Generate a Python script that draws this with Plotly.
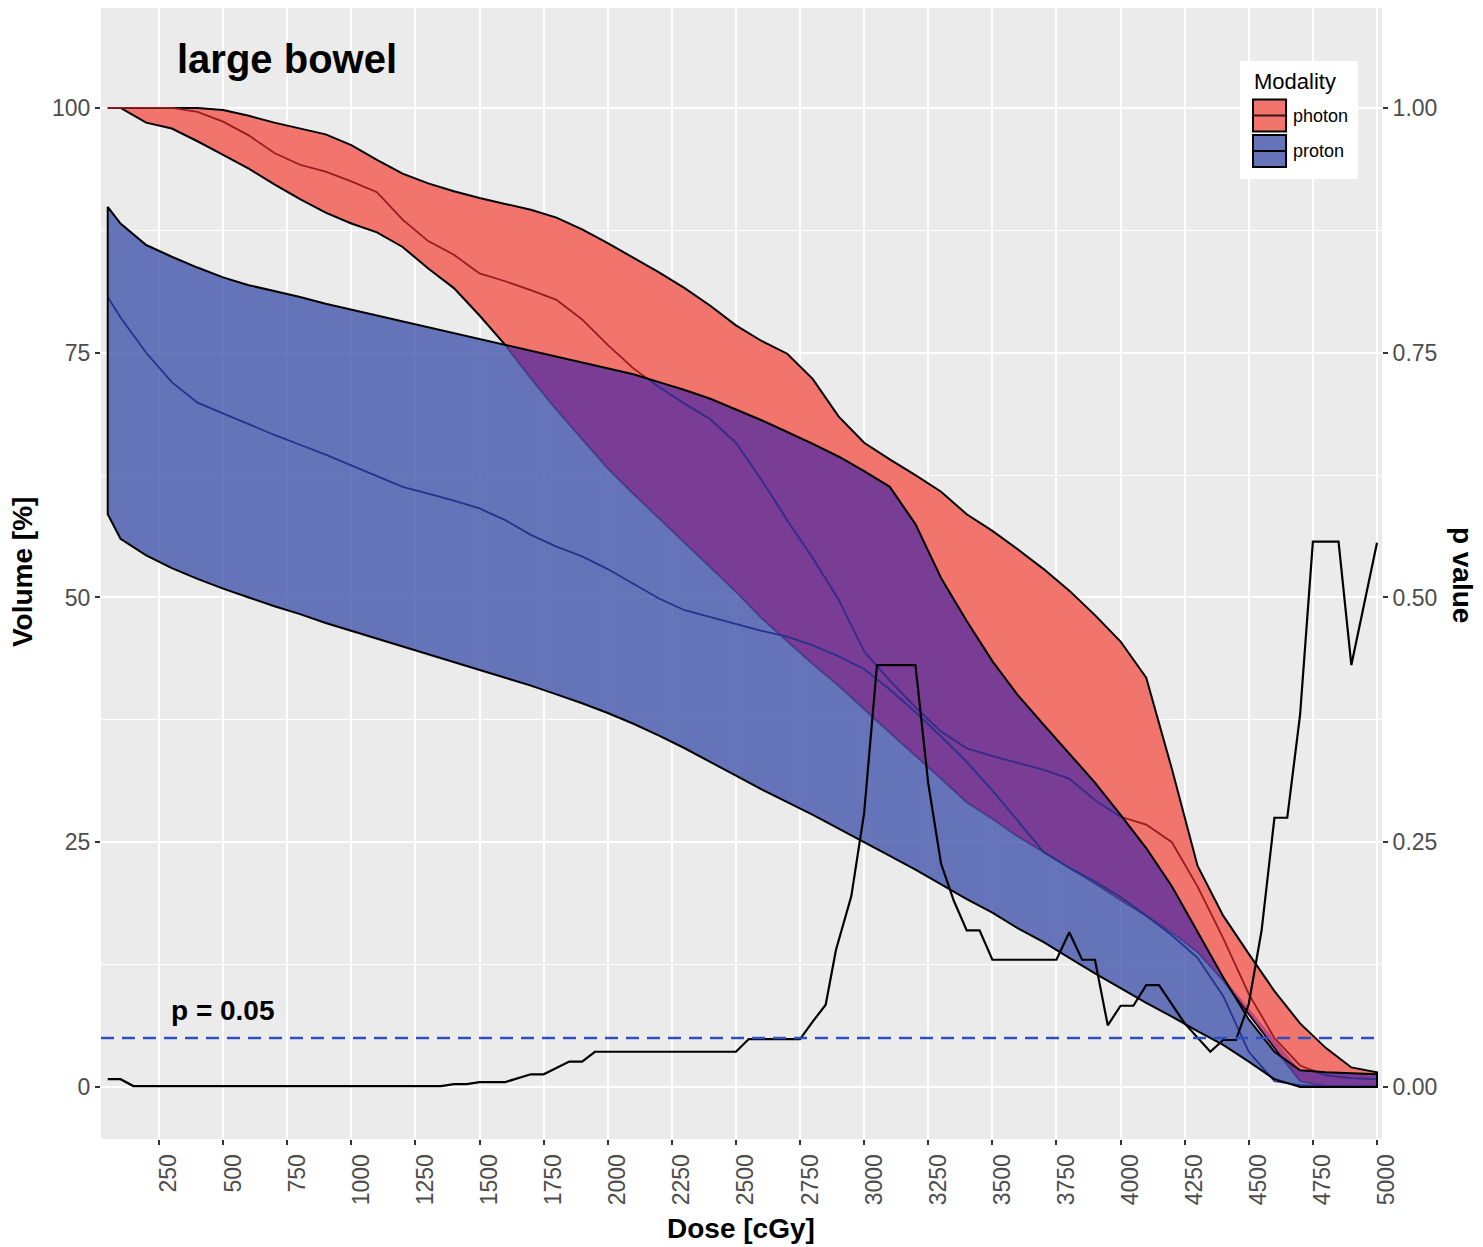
import numpy as np
import plotly.graph_objects as go

# ---------------- data ----------------
DOSE = [50] + list(range(100, 5001, 100))

PHOTON_UPPER = [100, 100, 100, 100, 100, 99.8, 99.2, 98.5, 97.9, 97.3, 96.2, 94.7, 93.3, 92.3, 91.5, 90.8,
                90.2, 89.6, 88.8, 87.6, 86.2, 84.7, 83.2, 81.6, 79.8, 77.8, 76.2, 74.9, 72.3, 68.5, 65.8,
                64.1, 62.5, 60.8, 58.5, 56.8, 54.9, 52.9, 50.7, 48.2, 45.5, 41.8, 32.5, 22.6, 17.5, 13.6,
                9.8, 6.5, 4.0, 2.0, 1.5]
PHOTON_LOWER = [100, 100, 98.5, 97.9, 96.6, 95.2, 93.8, 92.2, 90.7, 89.3, 88.2, 87.3, 85.8, 83.6, 81.6, 78.8,
                75.8, 72.4, 69.2, 66.2, 63.2, 60.6, 58.0, 55.5, 53.1, 50.6, 47.9, 45.5, 43.2, 41.0, 38.6,
                36.2, 33.8, 31.5, 29.1, 27.4, 25.6, 24.0, 22.4, 20.8, 19.1, 17.5, 15.8, 13.8, 10.9, 7.4,
                4.0, 0.6, 0.1, 0.0, 0.0]
PHOTON_MEAN = [100, 100, 100, 100, 99.6, 98.6, 97.2, 95.4, 94.2, 93.5, 92.5, 91.4, 88.6, 86.4, 85.0, 83.1,
               82.3, 81.4, 80.4, 78.4, 75.8, 73.4, 71.5, 69.8, 68.2, 65.8, 62.0, 57.9, 54.0, 49.8, 44.5,
               41.5, 38.8, 36.3, 34.6, 33.8, 33.1, 32.4, 31.5, 29.3, 27.6, 26.8, 25.0, 20.5, 15.2, 9.5,
               5.0, 2.2, 1.2, 0.9, 0.8]
PROTON_UPPER = [89.9, 88.2, 86.0, 84.8, 83.7, 82.7, 81.9, 81.3, 80.7, 80.0, 79.4, 78.8, 78.2, 77.6, 77.0, 76.4,
                75.8, 75.2, 74.6, 74.0, 73.4, 72.8, 72.0, 71.2, 70.3, 69.2, 68.1, 66.9, 65.7, 64.4, 62.9,
                61.3, 57.5, 52.0, 47.6, 43.5, 40.0, 37.0, 34.0, 31.1, 27.8, 24.4, 20.5, 15.8, 11.2, 6.9,
                3.6, 1.7, 1.5, 1.4, 1.3]
PROTON_LOWER = [58.5, 56.0, 54.3, 53.0, 51.9, 50.9, 50.0, 49.1, 48.3, 47.4, 46.6, 45.8, 45.0, 44.2, 43.4, 42.6,
                41.8, 41.0, 40.1, 39.2, 38.2, 37.1, 35.9, 34.6, 33.2, 31.8, 30.4, 29.1, 27.8, 26.4, 25.0,
                23.6, 22.2, 20.7, 19.2, 17.8, 16.2, 14.8, 13.2, 11.6, 10.1, 8.6, 7.2, 5.7, 4.3, 2.6,
                0.8, 0, 0, 0, 0]
PROTON_MEAN = [80.7, 78.6, 75.0, 72.0, 69.9, 68.8, 67.7, 66.6, 65.6, 64.6, 63.5, 62.4, 61.3, 60.6, 59.9, 59.1,
               57.9, 56.4, 55.2, 54.2, 52.9, 51.4, 49.9, 48.7, 48.0, 47.3, 46.6, 46.0, 45.1, 44.0, 42.7,
               40.6, 38.3, 35.8, 33.2, 30.3, 27.2, 24.0, 22.4, 21.0, 19.4, 17.5, 15.5, 13.2, 9.3, 3.6,
               0.6, 0.2, 0.1, 0.1, 0.1]

P_DOSE = [50, 100, 150, 1350, 1400, 1450, 1500, 1600, 1700, 1750, 1850, 1900, 1950, 2500, 2550, 2750, 2800,
          2850, 2890, 2950, 3000, 3050, 3200, 3250, 3300, 3350, 3400, 3450, 3500, 3750, 3800, 3850, 3900,
          3950, 4000, 4050, 4100, 4150, 4250, 4350, 4400, 4450, 4500, 4550, 4600, 4650, 4700, 4750, 4850,
          4900, 5000]
P_VALUE = [0.008, 0.008, 0.001, 0.001, 0.003, 0.003, 0.005, 0.005, 0.013, 0.013, 0.026, 0.026, 0.036, 0.036,
           0.049, 0.049, 0.067, 0.084, 0.14, 0.195, 0.28, 0.431, 0.431, 0.31, 0.228, 0.19, 0.16, 0.16, 0.13,
           0.13, 0.158, 0.13, 0.13, 0.063, 0.083, 0.083, 0.104, 0.104, 0.065, 0.036, 0.048, 0.048, 0.085,
           0.16, 0.275, 0.275, 0.38, 0.557, 0.557, 0.431, 0.556]
P_THRESHOLD = 0.05

X_TICKS = list(range(250, 5001, 250))
Y_TICKS = [0, 25, 50, 75, 100]
P_TICKS = [0, 0.25, 0.5, 0.75, 1.0]
P_TICKTEXT = ["0.00", "0.25", "0.50", "0.75", "1.00"]

# ---------------- styles ----------------
FONT = "Liberation Sans, Arial, Helvetica, sans-serif"
BG = "#EBEBEB"
RED = "rgb(241,117,108)"
BLUE_RGBA = "rgba(67,86,172,0.8)"
PURPLE_FIX = "rgba(142,30,142,0.5)"
BLUE_KEY = "rgb(101,116,185)"
RED_MEAN = "rgb(150,30,30)"
RED_MEAN_TINTED = "rgb(52,44,138)"
BLUE_MEAN = "rgb(38,50,140)"

X_RANGE = [23.8, 5019.5]
Y_RANGE = [-5.31, 110.21]

x = list(DOSE)
fig = go.Figure()

# photon ribbon
fig.add_trace(go.Scatter(x=x + x[::-1], y=PHOTON_UPPER + PHOTON_LOWER[::-1], fill="toself",
                         fillcolor=RED, mode="lines", line=dict(color="black", width=2),
                         hoverinfo="skip", showlegend=False))
fig.add_trace(go.Scatter(x=x, y=PHOTON_MEAN, mode="lines", line=dict(color=RED_MEAN, width=1.8),
                         hoverinfo="skip", showlegend=False))
# proton ribbon fill
fig.add_trace(go.Scatter(x=x + x[::-1], y=PROTON_UPPER + PROTON_LOWER[::-1], fill="toself",
                         fillcolor=BLUE_RGBA, mode="lines", line=dict(width=0),
                         hoverinfo="skip", showlegend=False))
# overlap tint
pu, pl = np.array(PHOTON_UPPER), np.array(PHOTON_LOWER)
qu, ql = np.array(PROTON_UPPER), np.array(PROTON_LOWER)
hi = np.minimum(pu, qu)
lo = np.maximum(pl, ql)
mask = hi >= lo
ox = [d for d, m in zip(x, mask) if m]
ohi = list(hi[mask])
olo = list(lo[mask])
fig.add_trace(go.Scatter(x=ox + ox[::-1], y=ohi + olo[::-1], fill="toself", fillcolor=PURPLE_FIX,
                         mode="lines", line=dict(width=0), hoverinfo="skip", showlegend=False))

# photon mean as seen through the proton ribbon (part of the line lying under the proton ribbon)
pm = np.array(PHOTON_MEAN, dtype=float)
d = pm - qu
tx, ty = [], []
for i in range(len(x)):
    if d[i] <= 0:
        tx.append(x[i]); ty.append(pm[i])
    if i + 1 < len(x) and (d[i] > 0) != (d[i + 1] > 0):
        t = d[i] / (d[i] - d[i + 1])
        xc = x[i] + t * (x[i + 1] - x[i])
        yc = pm[i] + t * (pm[i + 1] - pm[i])
        tx.append(xc); ty.append(yc)
        if d[i] <= 0:
            tx.append(None); ty.append(None)
fig.add_trace(go.Scatter(x=tx, y=ty, mode="lines", line=dict(color=RED_MEAN_TINTED, width=1.8),
                         connectgaps=False, hoverinfo="skip", showlegend=False))

fig.add_trace(go.Scatter(x=x, y=PROTON_MEAN, mode="lines", line=dict(color=BLUE_MEAN, width=1.8),
                         hoverinfo="skip", showlegend=False))
# proton outline
fig.add_trace(go.Scatter(x=x + x[::-1] + [x[0]], y=PROTON_UPPER + PROTON_LOWER[::-1] + [PROTON_UPPER[0]],
                         mode="lines", line=dict(color="black", width=2),
                         hoverinfo="skip", showlegend=False))
# p value
fig.add_trace(go.Scatter(x=P_DOSE, y=P_VALUE, mode="lines", yaxis="y2",
                         line=dict(color="black", width=2.2), hoverinfo="skip", showlegend=False))

fig.add_shape(type="line", xref="paper", x0=0, x1=1, yref="y2", y0=P_THRESHOLD, y1=P_THRESHOLD,
              line=dict(color="#2E4FBF", width=2.5, dash="13px,8px"), layer="above")

tickfont = dict(family=FONT, size=23, color="#4D4D4D")
fig.update_layout(
    width=1475, height=1239,
    margin=dict(l=93, r=101, t=0, b=108, pad=0),
    paper_bgcolor="white", plot_bgcolor=BG,
    font=dict(family=FONT),
    xaxis=dict(range=X_RANGE, tickvals=X_TICKS, tickangle=-90, ticks="outside", ticklen=5,
               tickwidth=2, tickcolor="#333333", showgrid=True, gridcolor="white", gridwidth=2,
               zeroline=False, showline=False, tickfont=tickfont, ticklabelshift=10),
    yaxis=dict(range=Y_RANGE, tickvals=Y_TICKS, ticks="outside", ticklen=5, tickwidth=2,
               tickcolor="#333333", showgrid=True, gridcolor="white", gridwidth=2, zeroline=False,
               showline=False, tickfont=tickfont,
               minor=dict(dtick=12.5, tick0=0, showgrid=True, gridcolor="white", gridwidth=1, ticks="")),
    yaxis2=dict(range=[Y_RANGE[0] / 100, Y_RANGE[1] / 100], overlaying="y", side="right",
                tickvals=P_TICKS, ticktext=P_TICKTEXT, ticks="outside", ticklen=5, tickwidth=2,
                tickcolor="#333333", showgrid=False, zeroline=False, showline=False, tickfont=tickfont),
)

# texts
fig.add_annotation(x=750, y=105, xref="x", yref="y", text="<b>large bowel</b>", showarrow=False,
                   xanchor="center", yanchor="middle",
                   font=dict(family=FONT, size=40, color="black"))
fig.add_annotation(x=500, y=7.8, xref="x", yref="y", text="<b>p = 0.05</b>", showarrow=False,
                   xanchor="center", yanchor="middle",
                   font=dict(family=FONT, size=28, color="black"))
fig.add_annotation(x=0.4996, y=-0.0787, xref="paper", yref="paper", text="<b>Dose [cGy]</b>",
                   xanchor="center", yanchor="middle",
                   showarrow=False, font=dict(family=FONT, size=28, color="black"))
fig.add_annotation(x=-0.0617, y=0.5013, xref="paper", yref="paper", text="<b>Volume [%]</b>",
                   xanchor="center", yanchor="middle",
                   textangle=-90, showarrow=False, font=dict(family=FONT, size=28, color="black"))
fig.add_annotation(x=1.0625, y=0.4987, xref="paper", yref="paper", text="<b>p value</b>",
                   xanchor="center", yanchor="middle",
                   textangle=90, showarrow=False, font=dict(family=FONT, size=28, color="black"))

# legend (manual, ggplot style)
fig.add_shape(type="rect", xref="paper", yref="paper", x0=0.8891, x1=0.9813, y0=0.8488, y1=0.9531,
              fillcolor="white", line=dict(width=0), layer="above")
for (ky0, ky1, kyl, col, lcol, lab) in [(0.8908, 0.9191, 0.9049, RED, "#3a1212", "photon"),
                                        (0.8594, 0.8877, 0.8736, BLUE_KEY, "black", "proton")]:
    fig.add_shape(type="rect", xref="paper", yref="paper", x0=0.8993, x1=0.9251, y0=ky0, y1=ky1,
                  fillcolor=col, line=dict(color="black", width=2), layer="above")
    fig.add_shape(type="line", xref="paper", yref="paper", x0=0.8993, x1=0.9251, y0=kyl, y1=kyl,
                  line=dict(color=lcol, width=2), layer="above")
    fig.add_annotation(x=0.9290, y=kyl, xref="paper", yref="paper", text=lab, showarrow=False,
                       xanchor="left", yanchor="middle",
                       font=dict(family=FONT, size=18, color="black"))
fig.add_annotation(x=0.8985, y=0.9346, xref="paper", yref="paper", text="Modality", showarrow=False,
                   xanchor="left", yanchor="middle",
                   font=dict(family=FONT, size=22, color="black"))

fig.write_html("out.html")
